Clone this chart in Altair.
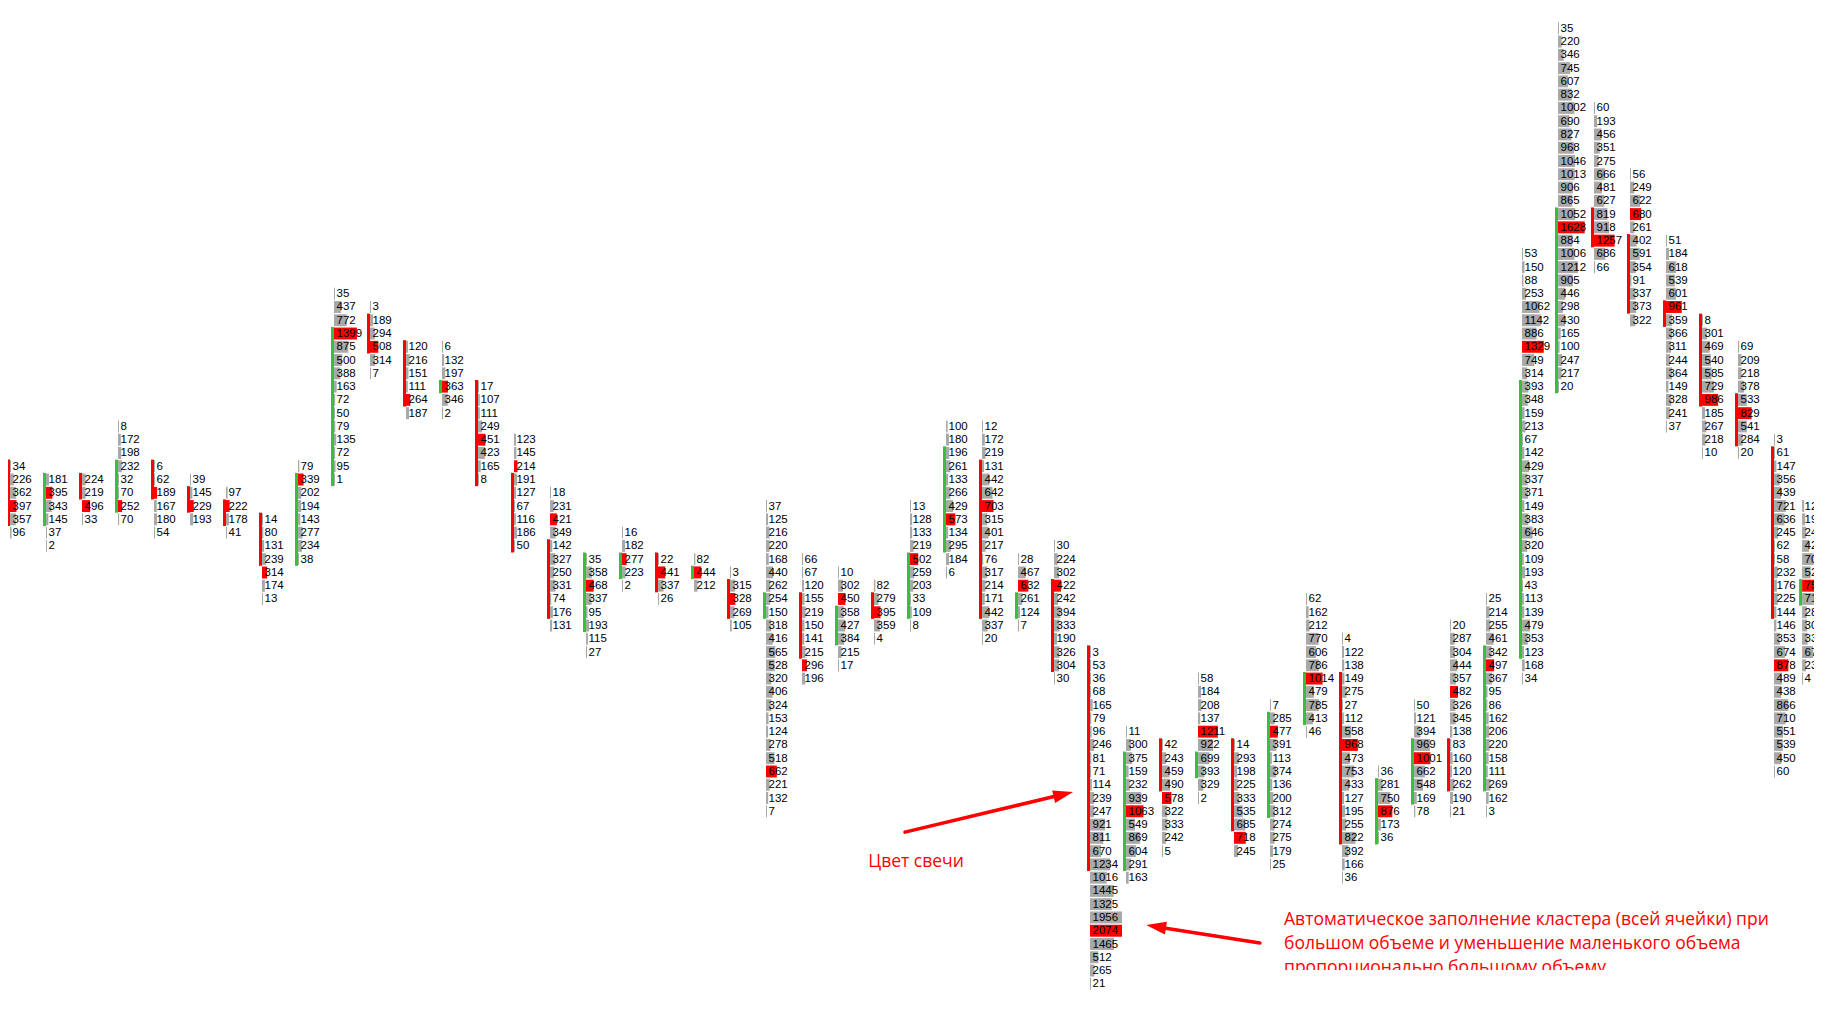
import altair as alt
import pandas as pd

VOLUMES = [
    [34,226,362,397,357,96],
    [181,395,343,145,37,2],
    [224,219,496,33],
    [8,172,198,232,32,70,252,70],
    [6,62,189,167,180,54],
    [39,145,229,193],
    [97,222,178,41],
    [14,80,131,239,314,174,13],
    [79,339,202,194,143,277,234,38],
    [35,437,772,1399,875,500,388,163,72,50,79,135,72,95,1],
    [3,189,294,508,314,7],
    [120,216,151,111,264,187],
    [6,132,197,363,346,2],
    [17,107,111,249,451,423,165,8],
    [123,145,214,191,127,67,116,186,50],
    [18,231,421,349,142,327,250,331,74,176,131],
    [35,358,468,337,95,193,115,27],
    [16,182,277,223,2],
    [22,441,337,26],
    [82,444,212],
    [3,315,328,269,105],
    [37,125,216,220,168,440,262,254,150,318,416,565,528,320,406,324,153,124,278,518,662,221,132,7],
    [66,67,120,155,219,150,141,215,296,196],
    [10,302,450,358,427,384,215,17],
    [82,279,395,359,4],
    [13,128,133,219,502,259,203,33,109,8],
    [100,180,196,261,133,266,429,573,134,295,184,6],
    [12,172,219,131,442,642,703,315,401,217,76,317,214,171,442,337,20],
    [28,467,632,261,124,7],
    [30,224,302,422,242,394,333,190,326,304,30],
    [3,53,36,68,165,79,96,246,81,71,114,239,247,921,811,670,1234,1016,1445,1325,1956,2074,1465,512,265,21],
    [11,300,375,159,232,939,1063,549,869,604,291,163],
    [42,243,459,490,578,322,333,242,5],
    [58,184,208,137,1211,922,699,393,329,2],
    [14,293,198,225,333,535,685,718,245],
    [7,285,477,391,113,374,136,200,312,274,275,179,25],
    [62,162,212,770,606,786,1014,479,785,413,46],
    [4,122,138,149,275,27,112,558,968,473,753,433,127,195,255,822,392,166,36],
    [36,281,750,876,173,36],
    [50,121,394,969,1001,662,548,169,78],
    [20,287,304,444,357,482,326,345,138,83,160,120,262,190,21],
    [25,214,255,461,342,497,367,95,86,162,206,220,158,111,269,162,3],
    [53,150,88,253,1062,1142,886,1329,749,314,393,348,159,213,67,142,429,337,371,149,383,646,320,109,193,43,113,139,479,353,123,168,34],
    [35,220,346,745,607,832,1002,690,827,968,1046,1013,906,865,1052,1628,884,1006,1212,905,446,298,430,165,100,247,217,20],
    [60,193,456,351,275,666,481,627,819,918,1257,686,66],
    [56,249,622,680,261,402,591,354,91,337,373,322],
    [51,184,618,539,601,961,359,366,311,244,364,149,328,241,37],
    [8,301,469,540,585,729,986,185,267,218,10],
    [69,209,218,378,533,829,541,284,20],
    [3,61,147,356,439,721,636,245,62,58,232,176,225,144,146,353,674,878,489,438,866,710,551,539,450,60],
    [125,190,245,425,705,525,755,715,285,305,335,675,235,4],
]
FIRST_ROW = [33,34,34,30,33,34,35,37,33,20,21,24,24,27,31,35,40,38,40,40,41,36,40,41,42,
             36,30,30,40,39,47,53,54,49,54,51,43,46,56,51,45,43,17,0,6,11,16,22,24,31,36]
CANDLE_TOP = [33,34,34,33,33,35,36,37,34,23,22,24,27,27,34,39,40,40,40,41,42,43,43,44,43,
              40,32,33,43,42,47,55,54,55,54,52,49,49,57,54,54,47,27,14,14,16,21,22,28,32,42]
CANDLE_BOTTOM = [37,37,35,36,35,36,37,40,40,34,24,28,27,34,39,44,45,41,42,41,44,44,47,46,44,
                 44,39,44,44,48,63,63,57,56,60,59,52,61,61,58,57,57,47,27,16,21,22,28,31,44,43]
CANDLE_KIND = ["down","up","down","up","down","down","down","down","up","up","down","down",
               "up","down","down","down","up","up","down","up","down","up","down","up","down",
               "up","up","down","up","down","down","up","down","up","down","up","up","down",
               "up","up","down","up","up","up","down","down","down","down","down","down","up"]
# Column slots; the last one sits a little closer so it still shows inside the page's drawing width.
COL_POS = [float(i) for i in range(50)] + [49.78]

NOTE_TEXT = ["Цвет свечи",
             "Автоматическое заполнение кластера (всей ячейки) при",
             "большом объеме и уменьшение маленького объема",
             "пропорционально большому объему"]
NOTE_COL = [23.84, 35.39, 35.39, 35.39]
NOTE_ROW = [63.2, 67.57, 69.38, 71.2]

ARROW_ID = ["a", "a", "b", "b"]
ARROW_COL = [24.86, 29.12, 34.72, 31.97]
ARROW_ROW = [60.57, 57.81, 68.93, 67.75]
HEAD_COL = [29.53, 31.56]
HEAD_ROW = [57.55, 67.57]
HEAD_ANGLE = [346.6, 189.0]

MASK_COL = [34.0]
MASK_COL2 = [50.11]
MASK_ROW = [70.96]
MASK_ROW2 = [73.37]

cells = pd.DataFrame(
    [{"col": COL_POS[c], "row": FIRST_ROW[c] + i, "vol": v,
      "kind": "poc" if v == max(vols) else "plain"}
     for c, vols in enumerate(VOLUMES) for i, v in enumerate(vols)]
)
candles = pd.DataFrame({
    "col": COL_POS, "top": CANDLE_TOP, "bottom": CANDLE_BOTTOM, "kind": CANDLE_KIND,
})
notes = pd.DataFrame({"col": NOTE_COL, "row": NOTE_ROW, "text": NOTE_TEXT})
arrows = pd.DataFrame({"id": ARROW_ID, "col": ARROW_COL, "row": ARROW_ROW})
heads = pd.DataFrame({"col": HEAD_COL, "row": HEAD_ROW, "angle": HEAD_ANGLE})
mask = pd.DataFrame({"col": MASK_COL, "col2": MASK_COL2, "row": MASK_ROW, "row2": MASK_ROW2})

PX_PER_COL = 36
xs = alt.Scale(domain=[-2 / 36, 1804 / 36], range=[0, 1806], nice=False, zero=False)
ys = alt.Scale(domain=[-1.53, 73.37], range=[0, 994], nice=False, zero=False)
X = alt.X("col:Q", scale=xs, axis=None)
Y = alt.Y("row:Q", scale=ys, axis=None)

bars = (
    alt.Chart(cells)
    .transform_calculate(
        x_end=f"datum.col + clamp(datum.vol / 61, 1, 32) / {PX_PER_COL}",
        r0="datum.row - 0.45",
        r1="datum.row + 0.45",
    )
    .mark_rect(clip=True)
    .encode(
        x=X,
        x2="x_end:Q",
        y=alt.Y("r0:Q", scale=ys, axis=None),
        y2="r1:Q",
        color=alt.Color("kind:N",
                        scale=alt.Scale(domain=["poc", "plain"], range=["#ff0000", "#a9a9a9"]),
                        legend=None),
    )
)
bodies = (
    alt.Chart(candles)
    .transform_calculate(
        x0=f"datum.col - 3 / {PX_PER_COL}",
        r0="datum.top - 0.5",
        r1="datum.bottom + 0.5",
    )
    .mark_rect()
    .encode(
        x=alt.X("x0:Q", scale=xs, axis=None),
        x2="col:Q",
        y=alt.Y("r0:Q", scale=ys, axis=None),
        y2="r1:Q",
        fill=alt.Fill("kind:N",
                      scale=alt.Scale(domain=["up", "down"], range=["#3abf3a", "#ff0000"]),
                      legend=None),
    )
)
labels = (
    alt.Chart(cells)
    .mark_text(align="left", baseline="middle", dx=2.5, dy=0.5, font="Liberation Sans",
               fontSize=11.5, color="#000000", clip=True)
    .encode(x=X, y=Y, text=alt.Text("vol:Q", format="d"))
)
shafts = (
    alt.Chart(arrows)
    .mark_line(color="#ff0000", strokeWidth=3.5, strokeCap="round")
    .encode(x=X, y=Y, detail="id:N")
)
tips = (
    alt.Chart(heads)
    .mark_point(shape="M0,0 L-1,-0.32 L-1,0.32 Z", size=1600, filled=True, color="#ff0000", opacity=1)
    .encode(x=X, y=Y, angle=alt.Angle("angle:Q", scale=None))
)
note_text = (
    alt.Chart(notes)
    .mark_text(align="left", baseline="alphabetic", font="Open Sans", fontSize=17.5, color="#ff0000")
    .encode(x=X, y=Y, text="text:N")
)
cover = (
    alt.Chart(mask)
    .mark_rect(color="#ffffff")
    .encode(x=X, x2="col2:Q", y=Y, y2="row2:Q")
)

chart = (
    alt.layer(bars, bodies, labels, shafts, tips, note_text, cover)
    .properties(
        width=1806, height=994, padding=0, background="#ffffff",
        autosize=alt.AutoSizeParams(type="none"),
    )
    .configure_view(stroke=None)
)
chart.save("out.html", embed_options={"renderer": "svg", "actions": False})
